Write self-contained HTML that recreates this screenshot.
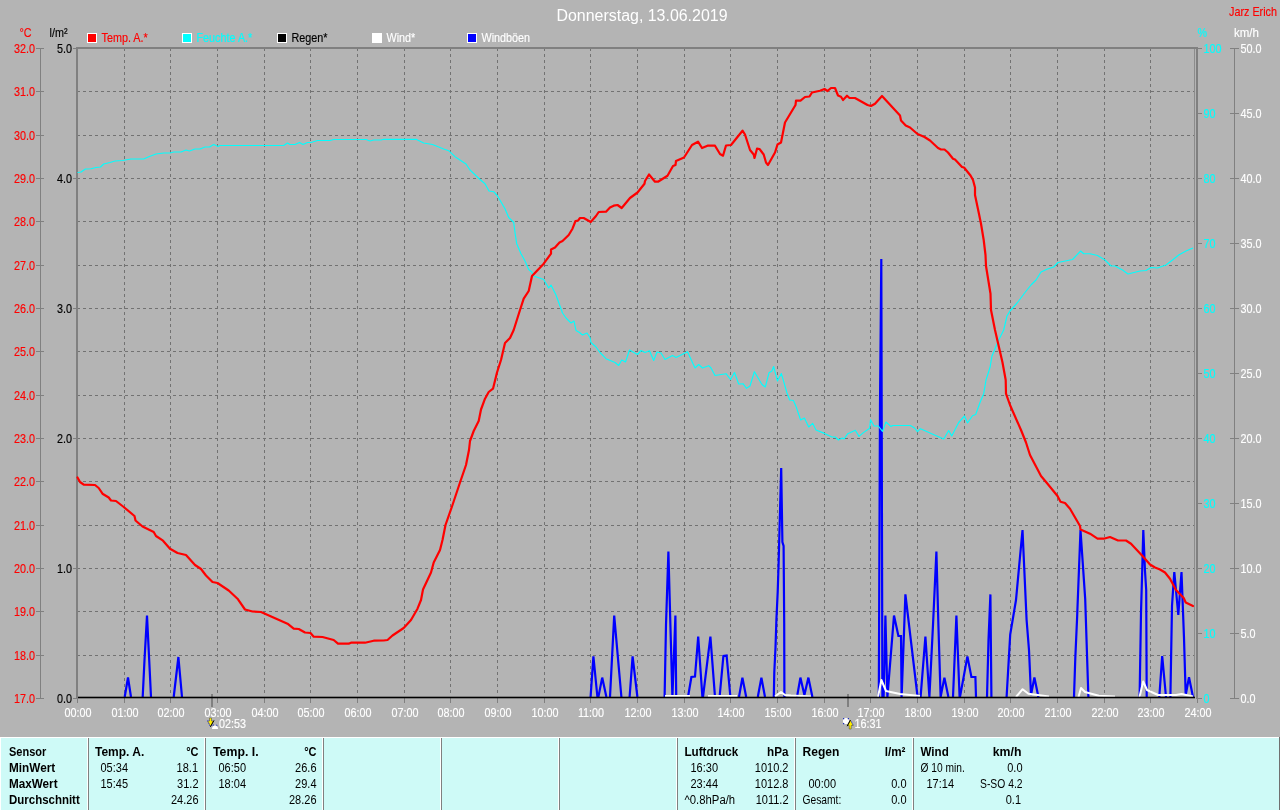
<!DOCTYPE html>
<html><head><meta charset="utf-8"><title>Donnerstag, 13.06.2019</title>
<style>html,body{margin:0;padding:0;background:#b4b4b4;overflow:hidden}svg{display:block;will-change:transform}text{font-family:"Liberation Sans",sans-serif}.a{font-size:12px;stroke-width:.15px}.t{font-size:12px}.b{font-size:12px;font-weight:bold}</style>
</head><body>
<svg width="1280" height="810" viewBox="0 0 1280 810">
<rect x="0" y="0" width="1280" height="810" fill="#b4b4b4"/>
<g stroke="#727272" stroke-width="1" stroke-dasharray="3 3" shape-rendering="crispEdges" fill="none">
<path d="M77 91.5H1194"/>
<path d="M77 135.5H1194"/>
<path d="M77 178.5H1194"/>
<path d="M77 221.5H1194"/>
<path d="M77 265.5H1194"/>
<path d="M77 308.5H1194"/>
<path d="M77 351.5H1194"/>
<path d="M77 395.5H1194"/>
<path d="M77 438.5H1194"/>
<path d="M77 481.5H1194"/>
<path d="M77 525.5H1194"/>
<path d="M77 568.5H1194"/>
<path d="M77 611.5H1194"/>
<path d="M77 655.5H1194"/>
<path d="M124.5 48V696"/>
<path d="M170.5 48V696"/>
<path d="M217.5 48V696"/>
<path d="M264.5 48V696"/>
<path d="M310.5 48V696"/>
<path d="M357.5 48V696"/>
<path d="M404.5 48V696"/>
<path d="M450.5 48V696"/>
<path d="M497.5 48V696"/>
<path d="M544.5 48V696"/>
<path d="M590.5 48V696"/>
<path d="M637.5 48V696"/>
<path d="M684.5 48V696"/>
<path d="M730.5 48V696"/>
<path d="M777.5 48V696"/>
<path d="M824.5 48V696"/>
<path d="M870.5 48V696"/>
<path d="M917.5 48V696"/>
<path d="M964.5 48V696"/>
<path d="M1010.5 48V696"/>
<path d="M1057.5 48V696"/>
<path d="M1104.5 48V696"/>
<path d="M1150.5 48V696"/>
</g>
<g fill="#808080" shape-rendering="crispEdges">
<rect x="76" y="47" width="2" height="652"/>
<rect x="76" y="47" width="1122" height="2"/>
<rect x="1196" y="47" width="2" height="652"/>
<rect x="1194" y="49" width="1" height="648" fill="#8c8c8c"/>
<rect x="40" y="48" width="1" height="651"/>
<rect x="1234" y="48" width="1" height="651"/>
<rect x="36" y="48" width="8" height="1"/>
<rect x="36" y="91" width="8" height="1"/>
<rect x="36" y="135" width="8" height="1"/>
<rect x="36" y="178" width="8" height="1"/>
<rect x="36" y="221" width="8" height="1"/>
<rect x="36" y="265" width="8" height="1"/>
<rect x="36" y="308" width="8" height="1"/>
<rect x="36" y="351" width="8" height="1"/>
<rect x="36" y="395" width="8" height="1"/>
<rect x="36" y="438" width="8" height="1"/>
<rect x="36" y="481" width="8" height="1"/>
<rect x="36" y="525" width="8" height="1"/>
<rect x="36" y="568" width="8" height="1"/>
<rect x="36" y="611" width="8" height="1"/>
<rect x="36" y="655" width="8" height="1"/>
<rect x="36" y="698" width="8" height="1"/>
<rect x="73" y="48" width="3" height="1"/>
<rect x="73" y="178" width="3" height="1"/>
<rect x="73" y="308" width="3" height="1"/>
<rect x="73" y="438" width="3" height="1"/>
<rect x="73" y="568" width="3" height="1"/>
<rect x="73" y="698" width="3" height="1"/>
<rect x="1198" y="48" width="4" height="1"/>
<rect x="1230" y="48" width="9" height="1"/>
<rect x="1198" y="113" width="4" height="1"/>
<rect x="1230" y="113" width="9" height="1"/>
<rect x="1198" y="178" width="4" height="1"/>
<rect x="1230" y="178" width="9" height="1"/>
<rect x="1198" y="243" width="4" height="1"/>
<rect x="1230" y="243" width="9" height="1"/>
<rect x="1198" y="308" width="4" height="1"/>
<rect x="1230" y="308" width="9" height="1"/>
<rect x="1198" y="373" width="4" height="1"/>
<rect x="1230" y="373" width="9" height="1"/>
<rect x="1198" y="438" width="4" height="1"/>
<rect x="1230" y="438" width="9" height="1"/>
<rect x="1198" y="503" width="4" height="1"/>
<rect x="1230" y="503" width="9" height="1"/>
<rect x="1198" y="568" width="4" height="1"/>
<rect x="1230" y="568" width="9" height="1"/>
<rect x="1198" y="633" width="4" height="1"/>
<rect x="1230" y="633" width="9" height="1"/>
<rect x="1198" y="698" width="4" height="1"/>
<rect x="1230" y="698" width="9" height="1"/>
<rect x="77" y="698" width="1" height="5"/>
<rect x="124" y="698" width="1" height="5"/>
<rect x="170" y="698" width="1" height="5"/>
<rect x="217" y="698" width="1" height="5"/>
<rect x="264" y="698" width="1" height="5"/>
<rect x="310" y="698" width="1" height="5"/>
<rect x="357" y="698" width="1" height="5"/>
<rect x="404" y="698" width="1" height="5"/>
<rect x="450" y="698" width="1" height="5"/>
<rect x="497" y="698" width="1" height="5"/>
<rect x="544" y="698" width="1" height="5"/>
<rect x="590" y="698" width="1" height="5"/>
<rect x="637" y="698" width="1" height="5"/>
<rect x="684" y="698" width="1" height="5"/>
<rect x="730" y="698" width="1" height="5"/>
<rect x="777" y="698" width="1" height="5"/>
<rect x="824" y="698" width="1" height="5"/>
<rect x="870" y="698" width="1" height="5"/>
<rect x="917" y="698" width="1" height="5"/>
<rect x="964" y="698" width="1" height="5"/>
<rect x="1010" y="698" width="1" height="5"/>
<rect x="1057" y="698" width="1" height="5"/>
<rect x="1104" y="698" width="1" height="5"/>
<rect x="1150" y="698" width="1" height="5"/>
<rect x="1197" y="698" width="1" height="5"/>
<rect x="211" y="694" width="2" height="13"/>
<rect x="847" y="694" width="2" height="13"/>
</g>
<g fill="none" stroke="#0000ff" stroke-width="2.2" stroke-linejoin="miter" stroke-miterlimit="3">
<polyline points="124.7,697 128,677.5 131,697"/>
<polyline points="142.7,697 144.5,660 147,615.6 149.2,660 151,697"/>
<polyline points="173.7,697 178.4,657 182,697"/>
<polyline points="590.6,697 593.4,656.4 597.4,697 598.4,697 602.2,677.6 606.4,697"/>
<polyline points="610,697 614.2,615.6 621.4,697"/>
<polyline points="629.6,697 632.6,656.4 637.4,697"/>
<polyline points="664.6,697 666,625 668.4,551.6 670.4,625 672.4,697 675.4,615.6 676.2,697"/>
<polyline points="688,697 691.4,677 695,676.6 698.2,636.6 702.4,697 703,697 710.4,636.6 715,697"/>
<polyline points="719.6,697 723.4,656 726.6,655.6 730.4,697"/>
<polyline points="739,697 742.4,677.6 746.2,697"/>
<polyline points="757.8,697 761.4,677.6 765,697"/>
<polyline points="773.8,697 774.3,672 775.5,647.5 776.4,620 777.7,592 778.6,564 779.5,530 781.2,468 782.4,542 783.6,546 784.2,623 784.4,697"/>
<polyline points="797,697 800.4,677.6 804.4,695 808.4,677.6 812.4,697"/>
<polyline points="878.8,697 880,406 881.3,259 882.4,697"/>
<polyline points="883.6,697 885.4,615.6 887.4,697 894,615.6 898.4,636 901,636 901.6,697 905.4,594.4 917.6,697"/>
<polyline points="920.6,697 925.4,636.6 929.4,697 933,625 936.4,551.6 938.4,625 940.6,697 944.4,677.6 948.4,697"/>
<polyline points="953,697 956.4,615.6 959.6,697 960,697 967.4,656.4 971.4,677 975.4,677 976,697"/>
<polyline points="987,697 988.5,640 990.4,594.4 991.4,697"/>
<polyline points="1006.6,697 1010.2,634.6 1016,600 1022.5,530 1026.6,620 1029,650 1031,695 1034.4,677.5 1038.4,697"/>
<polyline points="1074,697 1075.3,658 1077,620 1080.5,530 1085.2,599 1088.4,697"/>
<polyline points="1139.6,697 1141,613 1142.2,571 1143.3,530 1145,571 1146.2,590 1146.7,697"/>
<polyline points="1159.3,697 1162.2,656 1166,697"/>
<polyline points="1170.4,697 1172,606 1174.3,572 1178.3,615 1181.5,572 1184,638 1185.7,695 1189,677.3 1193,697"/>
</g>
<g fill="none" stroke="#ffffff" stroke-width="2" stroke-linejoin="round">
<polyline points="665,696 690,696"/>
<polyline points="708,696 737,696"/>
<polyline points="775,696.5 781,692 785,695 791,695.5 811,696.5"/>
<polyline points="878,697 881.4,680 886,691 900,694 920,696"/>
<polyline points="1016,697 1022.6,689.2 1028.4,693.8 1049,696.5"/>
<polyline points="1078.5,697 1081,688 1085,692 1098.8,695.7 1115,696.5"/>
<polyline points="1139.5,697 1143.2,681.5 1147,690 1158,695 1176,695 1181.5,694 1193,696.5"/>
</g>
<polyline points="77.5,172.5 81,172 85.5,169 91,168.7 96,167.5 100.5,167 103.7,164 110,162.5 115,161 122.5,160.5 131,159 143.7,159 148.7,156.7 156,154 163.7,153 170,153 173.7,152 181,152 186,150 189.5,151 195,149 200,149 205,147 209.5,147 213.7,144.5 218,146.5 220,145.5 283.7,145.5 287.5,143 290,144.5 295,144.5 299.5,142.5 303,144.5 307.5,142.5 311,142.5 317.5,140.5 330,140.5 333.7,139.5 366,139.5 370,141 373.7,140 381,140 383.7,139.3 416,139.3 423.7,143 432.5,144.5 443.7,149 448.7,150.7 455,156.7 466,164 470,170 480,179.5 485,183.7 489,191 493.7,191.7 497.5,196 505,208.7 508.7,217.5 513.7,222.5 515,232.5 516.7,243.7 521,253.7 525,261 528.7,269.5 531.7,272 533.7,276 543.7,279.5 548.7,288 551,285 556,295 562.5,313 566,318 571,323 574,321 576,330.5 579.5,332.5 582.5,335 587,333 590,337.5 591,342.5 596,347 600,352.5 606,358.7 615,362.5 618.7,365.5 621.7,360 625.5,362 629.5,350 637.5,354.5 641,350.5 645,352.5 649.5,350.7 653.7,360.5 657,352 661,353 665,359.5 672.5,355.5 676,357.5 687.5,351.7 695,368 698.7,364.5 702.5,368 708.7,365.7 711,368 715,375.5 726,373.7 730.5,379.5 734.5,372.5 738.7,384 743,383.7 746.5,388.4 750,386 754.4,371.7 762,384.5 765.3,387 769,372.8 772,371 773.6,366.5 777.5,381 781.4,373.6 787,393 789.7,400 793.4,400.5 796,406.4 800.6,420 804.4,418 808.7,427 812.6,423.3 816,430 824.4,433.4 832,437 835.3,437 838.4,440 842.3,438 844,439 847.8,433.7 855.3,430.3 859,436.4 863.4,432.6 869.7,428.3 870.5,419.7 874,426 878.3,426 882.5,431.4 886,422 890.8,426.4 893,425.5 910.3,425.5 914.5,428 917.5,431.7 920.5,428.7 930,433 943.7,439 948.7,430.5 951.7,436 958.7,422.5 964.5,416 967.5,423 972.5,415.7 975.7,414.5 980,402.5 983.7,393.7 986,380 990,367.5 992,356 998.7,340 1003.7,330 1007,316 1010,311 1017.5,302.5 1025,292.5 1031,285 1036,280 1041,272 1047.5,269 1053.7,267 1058,262.5 1072.5,259.5 1080.7,251 1083.7,253.7 1090,253.7 1097.5,255.5 1105,260 1111,266 1115,266 1122.5,270 1128,274 1140,271 1146,270.5 1151,267.5 1157.5,268 1166,265 1172.5,260 1178.7,255 1186,251 1193,248" fill="none" stroke="#00ffff" stroke-width="1.15" stroke-linejoin="round"/>
<polyline points="77.5,477.5 80,482 83.7,484.7 95,485 98.7,488 102.5,493.7 108.7,497.5 111,500.5 116,501 123.7,507 134.5,516 135.5,520.5 142.5,526.5 153.7,532 156,536 163,540.7 170,548.7 177.5,553 186,555 195,565 201,569 206,575.5 212.5,582 217.5,583 228.7,590.5 237.5,598.7 245,609.5 252.5,611.5 261,612 287.5,623.7 293.7,628.7 298.7,629 305,632.5 310.5,633 313.7,636.7 322.5,637 333.7,640 338,643.7 348.7,643.7 351,642.7 365,642.7 373.7,640.7 383.7,640.5 387.5,640 392.5,635.5 403.7,628 411,620 417.5,608.7 421,600 423,589.5 431,572.5 433.7,562.5 440,550 442.5,540 445.5,525 452.5,505 460,482.5 466,465 469,450 470,441 473.7,431 478.7,421 481,409.5 485,398.7 488.7,392 493,388.7 497,372.5 501,360 505,343 510,338 513.7,330 520,310 523.7,298.7 528.7,291 532,276 543.7,263.7 551,253.7 551,249.5 555,247.5 559.5,242.5 562.5,241 568.7,235 572.5,228.7 575.5,221 578,220.7 580,218 583.7,218 590.7,222 596,216 598.7,212 606,211.7 610,207.5 613.7,205.7 617.5,205 621.7,208 630,198 637.5,192.5 644.5,183.7 645,181 649,174.5 655,181.7 658,181.7 667.5,175.7 673,166 675.5,165 676,161 684,157.5 692,145 698,141.7 702,148 707.5,145.7 715,145.7 720,154 723,155.7 726,145.5 731,145 742.5,130.7 745,134.5 750,150 753.7,154.5 754.5,158 757,148.7 759.5,149 763.7,154.5 766,162.5 768,165 775,152.5 777.5,144.5 781,142.5 785,122.5 795.5,105 796,100.7 800.5,100.7 805,97 809.5,96.5 812,92.5 820,90.7 824.5,89 827.5,91 831,88 835,88 838,95.5 841,96.7 843,100 847,95.7 849.5,98 855,98 867.5,105 871,106 875,103.7 882,96 900,115.5 901,120.5 905.7,125.5 910,127.5 917.5,134 924.5,137 930,140.5 938,148 941,149.5 944.5,149.5 948,152.5 953,158.7 955,159.5 962,167 964,167.5 970.5,175.5 973,180 975,187.5 975,195 978.7,212.5 981,223.7 983.7,240 985.5,255 986,266 990.5,293.7 991,310 995,330 1002.5,362.5 1005.7,380 1006,393.7 1010,405 1021,430 1026,442.5 1030,455 1041,476 1047.5,483.7 1057.5,496 1060.5,501.7 1065,503 1070,508.7 1080,526 1080.5,529.5 1090,533.7 1097.5,538.7 1103.7,538.7 1110,537 1118,540.5 1126,540.5 1131,543.7 1142.5,556 1150,564.5 1155,567.5 1160,569.5 1165,572.5 1170,578.7 1176,590 1183.7,598 1185.7,602.5 1193,606" fill="none" stroke="#ff0000" stroke-width="2.2" stroke-linejoin="round" stroke-linecap="round"/>
<rect x="78" y="696.7" width="1117" height="1.6" fill="#000"/>
<text class="a" transform="translate(35,53.0) scale(0.9,1)" text-anchor="end" fill="#ff0000" stroke="#ff0000">32.0</text>
<text class="a" transform="translate(35,96.3) scale(0.9,1)" text-anchor="end" fill="#ff0000" stroke="#ff0000">31.0</text>
<text class="a" transform="translate(35,139.7) scale(0.9,1)" text-anchor="end" fill="#ff0000" stroke="#ff0000">30.0</text>
<text class="a" transform="translate(35,183.0) scale(0.9,1)" text-anchor="end" fill="#ff0000" stroke="#ff0000">29.0</text>
<text class="a" transform="translate(35,226.3) scale(0.9,1)" text-anchor="end" fill="#ff0000" stroke="#ff0000">28.0</text>
<text class="a" transform="translate(35,269.7) scale(0.9,1)" text-anchor="end" fill="#ff0000" stroke="#ff0000">27.0</text>
<text class="a" transform="translate(35,313.0) scale(0.9,1)" text-anchor="end" fill="#ff0000" stroke="#ff0000">26.0</text>
<text class="a" transform="translate(35,356.3) scale(0.9,1)" text-anchor="end" fill="#ff0000" stroke="#ff0000">25.0</text>
<text class="a" transform="translate(35,399.7) scale(0.9,1)" text-anchor="end" fill="#ff0000" stroke="#ff0000">24.0</text>
<text class="a" transform="translate(35,443.0) scale(0.9,1)" text-anchor="end" fill="#ff0000" stroke="#ff0000">23.0</text>
<text class="a" transform="translate(35,486.3) scale(0.9,1)" text-anchor="end" fill="#ff0000" stroke="#ff0000">22.0</text>
<text class="a" transform="translate(35,529.7) scale(0.9,1)" text-anchor="end" fill="#ff0000" stroke="#ff0000">21.0</text>
<text class="a" transform="translate(35,573.0) scale(0.9,1)" text-anchor="end" fill="#ff0000" stroke="#ff0000">20.0</text>
<text class="a" transform="translate(35,616.3) scale(0.9,1)" text-anchor="end" fill="#ff0000" stroke="#ff0000">19.0</text>
<text class="a" transform="translate(35,659.7) scale(0.9,1)" text-anchor="end" fill="#ff0000" stroke="#ff0000">18.0</text>
<text class="a" transform="translate(35,703.0) scale(0.9,1)" text-anchor="end" fill="#ff0000" stroke="#ff0000">17.0</text>
<text class="a" transform="translate(72,53) scale(0.9,1)" text-anchor="end" fill="#000" stroke="#000">5.0</text>
<text class="a" transform="translate(72,183) scale(0.9,1)" text-anchor="end" fill="#000" stroke="#000">4.0</text>
<text class="a" transform="translate(72,313) scale(0.9,1)" text-anchor="end" fill="#000" stroke="#000">3.0</text>
<text class="a" transform="translate(72,443) scale(0.9,1)" text-anchor="end" fill="#000" stroke="#000">2.0</text>
<text class="a" transform="translate(72,573) scale(0.9,1)" text-anchor="end" fill="#000" stroke="#000">1.0</text>
<text class="a" transform="translate(72,703) scale(0.9,1)" text-anchor="end" fill="#000" stroke="#000">0.0</text>
<text class="a" transform="translate(1203.5,53) scale(0.9,1)" text-anchor="start" fill="#00ffff" stroke="#00ffff">100</text>
<text class="a" transform="translate(1240.5,53) scale(0.9,1)" text-anchor="start" fill="#ffffff" stroke="#ffffff">50.0</text>
<text class="a" transform="translate(1203.5,118) scale(0.9,1)" text-anchor="start" fill="#00ffff" stroke="#00ffff">90</text>
<text class="a" transform="translate(1240.5,118) scale(0.9,1)" text-anchor="start" fill="#ffffff" stroke="#ffffff">45.0</text>
<text class="a" transform="translate(1203.5,183) scale(0.9,1)" text-anchor="start" fill="#00ffff" stroke="#00ffff">80</text>
<text class="a" transform="translate(1240.5,183) scale(0.9,1)" text-anchor="start" fill="#ffffff" stroke="#ffffff">40.0</text>
<text class="a" transform="translate(1203.5,248) scale(0.9,1)" text-anchor="start" fill="#00ffff" stroke="#00ffff">70</text>
<text class="a" transform="translate(1240.5,248) scale(0.9,1)" text-anchor="start" fill="#ffffff" stroke="#ffffff">35.0</text>
<text class="a" transform="translate(1203.5,313) scale(0.9,1)" text-anchor="start" fill="#00ffff" stroke="#00ffff">60</text>
<text class="a" transform="translate(1240.5,313) scale(0.9,1)" text-anchor="start" fill="#ffffff" stroke="#ffffff">30.0</text>
<text class="a" transform="translate(1203.5,378) scale(0.9,1)" text-anchor="start" fill="#00ffff" stroke="#00ffff">50</text>
<text class="a" transform="translate(1240.5,378) scale(0.9,1)" text-anchor="start" fill="#ffffff" stroke="#ffffff">25.0</text>
<text class="a" transform="translate(1203.5,443) scale(0.9,1)" text-anchor="start" fill="#00ffff" stroke="#00ffff">40</text>
<text class="a" transform="translate(1240.5,443) scale(0.9,1)" text-anchor="start" fill="#ffffff" stroke="#ffffff">20.0</text>
<text class="a" transform="translate(1203.5,508) scale(0.9,1)" text-anchor="start" fill="#00ffff" stroke="#00ffff">30</text>
<text class="a" transform="translate(1240.5,508) scale(0.9,1)" text-anchor="start" fill="#ffffff" stroke="#ffffff">15.0</text>
<text class="a" transform="translate(1203.5,573) scale(0.9,1)" text-anchor="start" fill="#00ffff" stroke="#00ffff">20</text>
<text class="a" transform="translate(1240.5,573) scale(0.9,1)" text-anchor="start" fill="#ffffff" stroke="#ffffff">10.0</text>
<text class="a" transform="translate(1203.5,638) scale(0.9,1)" text-anchor="start" fill="#00ffff" stroke="#00ffff">10</text>
<text class="a" transform="translate(1240.5,638) scale(0.9,1)" text-anchor="start" fill="#ffffff" stroke="#ffffff">5.0</text>
<text class="a" transform="translate(1203.5,703) scale(0.9,1)" text-anchor="start" fill="#00ffff" stroke="#00ffff">0</text>
<text class="a" transform="translate(1240.5,703) scale(0.9,1)" text-anchor="start" fill="#ffffff" stroke="#ffffff">0.0</text>
<text class="a" transform="translate(78,717) scale(0.9,1)" text-anchor="middle" fill="#ffffff" stroke="#ffffff">00:00</text>
<text class="a" transform="translate(125,717) scale(0.9,1)" text-anchor="middle" fill="#ffffff" stroke="#ffffff">01:00</text>
<text class="a" transform="translate(171,717) scale(0.9,1)" text-anchor="middle" fill="#ffffff" stroke="#ffffff">02:00</text>
<text class="a" transform="translate(218,717) scale(0.9,1)" text-anchor="middle" fill="#ffffff" stroke="#ffffff">03:00</text>
<text class="a" transform="translate(265,717) scale(0.9,1)" text-anchor="middle" fill="#ffffff" stroke="#ffffff">04:00</text>
<text class="a" transform="translate(311,717) scale(0.9,1)" text-anchor="middle" fill="#ffffff" stroke="#ffffff">05:00</text>
<text class="a" transform="translate(358,717) scale(0.9,1)" text-anchor="middle" fill="#ffffff" stroke="#ffffff">06:00</text>
<text class="a" transform="translate(405,717) scale(0.9,1)" text-anchor="middle" fill="#ffffff" stroke="#ffffff">07:00</text>
<text class="a" transform="translate(451,717) scale(0.9,1)" text-anchor="middle" fill="#ffffff" stroke="#ffffff">08:00</text>
<text class="a" transform="translate(498,717) scale(0.9,1)" text-anchor="middle" fill="#ffffff" stroke="#ffffff">09:00</text>
<text class="a" transform="translate(545,717) scale(0.9,1)" text-anchor="middle" fill="#ffffff" stroke="#ffffff">10:00</text>
<text class="a" transform="translate(591,717) scale(0.9,1)" text-anchor="middle" fill="#ffffff" stroke="#ffffff">11:00</text>
<text class="a" transform="translate(638,717) scale(0.9,1)" text-anchor="middle" fill="#ffffff" stroke="#ffffff">12:00</text>
<text class="a" transform="translate(685,717) scale(0.9,1)" text-anchor="middle" fill="#ffffff" stroke="#ffffff">13:00</text>
<text class="a" transform="translate(731,717) scale(0.9,1)" text-anchor="middle" fill="#ffffff" stroke="#ffffff">14:00</text>
<text class="a" transform="translate(778,717) scale(0.9,1)" text-anchor="middle" fill="#ffffff" stroke="#ffffff">15:00</text>
<text class="a" transform="translate(825,717) scale(0.9,1)" text-anchor="middle" fill="#ffffff" stroke="#ffffff">16:00</text>
<text class="a" transform="translate(871,717) scale(0.9,1)" text-anchor="middle" fill="#ffffff" stroke="#ffffff">17:00</text>
<text class="a" transform="translate(918,717) scale(0.9,1)" text-anchor="middle" fill="#ffffff" stroke="#ffffff">18:00</text>
<text class="a" transform="translate(965,717) scale(0.9,1)" text-anchor="middle" fill="#ffffff" stroke="#ffffff">19:00</text>
<text class="a" transform="translate(1011,717) scale(0.9,1)" text-anchor="middle" fill="#ffffff" stroke="#ffffff">20:00</text>
<text class="a" transform="translate(1058,717) scale(0.9,1)" text-anchor="middle" fill="#ffffff" stroke="#ffffff">21:00</text>
<text class="a" transform="translate(1105,717) scale(0.9,1)" text-anchor="middle" fill="#ffffff" stroke="#ffffff">22:00</text>
<text class="a" transform="translate(1151,717) scale(0.9,1)" text-anchor="middle" fill="#ffffff" stroke="#ffffff">23:00</text>
<text class="a" transform="translate(1198,717) scale(0.9,1)" text-anchor="middle" fill="#ffffff" stroke="#ffffff">24:00</text>
<text class="a" transform="translate(19.5,37) scale(0.9,1)" text-anchor="start" fill="#ff0000" stroke="#ff0000">°C</text>
<text class="a" transform="translate(49.5,37) scale(0.9,1)" text-anchor="start" fill="#000" stroke="#000">l/m²</text>
<text class="a" transform="translate(1197.5,37) scale(0.9,1)" text-anchor="start" fill="#00ffff" stroke="#00ffff">%</text>
<text class="a" transform="translate(1234,37) scale(0.96,1)" text-anchor="start" fill="#ffffff" stroke="#ffffff">km/h</text>
<text class="a" transform="translate(1277,16) scale(0.9,1)" text-anchor="end" fill="#ff0000" stroke="#ff0000">Jarz Erich</text>
<text class="a" transform="translate(219,728) scale(0.9,1)" text-anchor="start" fill="#ffffff" stroke="#ffffff">02:53</text>
<text class="a" transform="translate(854.5,728) scale(0.9,1)" text-anchor="start" fill="#ffffff" stroke="#ffffff">16:31</text>
<text x="642" y="20.5" text-anchor="middle" fill="#ffffff" font-size="16px" textLength="171" lengthAdjust="spacingAndGlyphs">Donnerstag, 13.06.2019</text>
<rect x="87" y="33" width="10" height="10" fill="#fff" shape-rendering="crispEdges"/>
<rect x="88" y="34" width="8" height="8" fill="#ff0000" shape-rendering="crispEdges"/>
<text class="a" transform="translate(101.5,42) scale(0.9,1)" text-anchor="start" fill="#ff0000" stroke="#ff0000">Temp. A.*</text>
<rect x="182" y="33" width="10" height="10" fill="#fff" shape-rendering="crispEdges"/>
<rect x="183" y="34" width="8" height="8" fill="#00ffff" shape-rendering="crispEdges"/>
<text class="a" transform="translate(196.5,42) scale(0.9,1)" text-anchor="start" fill="#00ffff" stroke="#00ffff">Feuchte A.*</text>
<rect x="277" y="33" width="10" height="10" fill="#fff" shape-rendering="crispEdges"/>
<rect x="278" y="34" width="8" height="8" fill="#000000" shape-rendering="crispEdges"/>
<text class="a" transform="translate(291.5,42) scale(0.9,1)" text-anchor="start" fill="#000" stroke="#000">Regen*</text>
<rect x="372" y="33" width="10" height="10" fill="#fff" shape-rendering="crispEdges"/>
<rect x="373" y="34" width="8" height="8" fill="#ffffff" shape-rendering="crispEdges"/>
<text class="a" transform="translate(386.5,42) scale(0.9,1)" text-anchor="start" fill="#ffffff" stroke="#ffffff">Wind*</text>
<rect x="467" y="33" width="10" height="10" fill="#fff" shape-rendering="crispEdges"/>
<rect x="468" y="34" width="8" height="8" fill="#0000ff" shape-rendering="crispEdges"/>
<text class="a" transform="translate(481.5,42) scale(0.9,1)" text-anchor="start" fill="#ffffff" stroke="#ffffff">Windböen</text>
<g>
<path d="M209.5 718h2v3h2l-3 5.5l-3-5.5h2z" fill="#ffee00" stroke="#222" stroke-width="0.4"/>
<path d="M212 729a3 3.6 0 0 1 6 0z" fill="#fff"/>
<path d="M214 720.4L210.4 726.8" stroke="#000" stroke-width="1" fill="none"/>
<path d="M207.6 720.2L210 726" stroke="#3040ff" stroke-width="0.9" stroke-dasharray="1.4 1.2" fill="none"/>
<path d="M212.6 725.4l1.4 -.6M217.4 725.6l-1.2-.6" stroke="#2030c0" stroke-width="1" fill="none"/>
<circle cx="846" cy="721" r="3.1" fill="#fff"/>
<path d="M850.2 720l3 5.5h-2v3.5h-2v-3.5h-2z" fill="#ffee00" stroke="#222" stroke-width="0.4"/>
<path d="M850.4 720.2L847.2 726.2" stroke="#000" stroke-width="1" fill="none"/>
<path d="M851.6 721.5L853.6 726" stroke="#3040ff" stroke-width="0.8" stroke-dasharray="1.2 1.2" fill="none"/>
<path d="M843 718h1.2v1.2h-1.2zM847.8 718h1.2v1.2h-1.2zM843 723h1.2v1.2h-1.2z" fill="#2030c0"/>
</g>
<rect x="0" y="737" width="1280" height="73" fill="#cefaf7"/>
<rect x="0" y="737" width="1280" height="1" fill="#fff"/>
<rect x="0" y="737" width="1" height="73" fill="#fff"/>
<rect x="1279" y="737" width="1" height="73" fill="#707070"/>
<rect x="87" y="738" width="1" height="72" fill="#fff" shape-rendering="crispEdges"/>
<rect x="88" y="738" width="1" height="72" fill="#808080" shape-rendering="crispEdges"/>
<rect x="204" y="738" width="1" height="72" fill="#fff" shape-rendering="crispEdges"/>
<rect x="205" y="738" width="1" height="72" fill="#808080" shape-rendering="crispEdges"/>
<rect x="322" y="738" width="1" height="72" fill="#fff" shape-rendering="crispEdges"/>
<rect x="323" y="738" width="1" height="72" fill="#808080" shape-rendering="crispEdges"/>
<rect x="440" y="738" width="1" height="72" fill="#fff" shape-rendering="crispEdges"/>
<rect x="441" y="738" width="1" height="72" fill="#808080" shape-rendering="crispEdges"/>
<rect x="558" y="738" width="1" height="72" fill="#fff" shape-rendering="crispEdges"/>
<rect x="559" y="738" width="1" height="72" fill="#808080" shape-rendering="crispEdges"/>
<rect x="676" y="738" width="1" height="72" fill="#fff" shape-rendering="crispEdges"/>
<rect x="677" y="738" width="1" height="72" fill="#808080" shape-rendering="crispEdges"/>
<rect x="794" y="738" width="1" height="72" fill="#fff" shape-rendering="crispEdges"/>
<rect x="795" y="738" width="1" height="72" fill="#808080" shape-rendering="crispEdges"/>
<rect x="912" y="738" width="1" height="72" fill="#fff" shape-rendering="crispEdges"/>
<rect x="913" y="738" width="1" height="72" fill="#808080" shape-rendering="crispEdges"/>
<text class="b" transform="translate(9,756) scale(0.9167,1)" text-anchor="start" fill="#000">Sensor</text>
<text class="b" transform="translate(9,772) scale(0.9808,1)" text-anchor="start" fill="#000">MinWert</text>
<text class="b" transform="translate(9,788) scale(0.9762,1)" text-anchor="start" fill="#000">MaxWert</text>
<text class="b" transform="translate(9,804) scale(0.957,1)" text-anchor="start" fill="#000">Durchschnitt</text>
<text class="b" transform="translate(95,756) scale(0.9992,1)" text-anchor="start" fill="#000">Temp. A.</text>
<text class="b" transform="translate(198.5,756) scale(0.9167,1)" text-anchor="end" fill="#000">°C</text>
<text class="t" transform="translate(100.5,772) scale(0.9167,1)" text-anchor="start" fill="#000">05:34</text>
<text class="t" transform="translate(198,772) scale(0.9167,1)" text-anchor="end" fill="#000">18.1</text>
<text class="t" transform="translate(100.5,788) scale(0.9167,1)" text-anchor="start" fill="#000">15:45</text>
<text class="t" transform="translate(198.5,788) scale(0.9167,1)" text-anchor="end" fill="#000">31.2</text>
<text class="t" transform="translate(198.5,804) scale(0.9167,1)" text-anchor="end" fill="#000">24.26</text>
<text class="b" transform="translate(213,756) scale(1.0267,1)" text-anchor="start" fill="#000">Temp. I.</text>
<text class="b" transform="translate(316.5,756) scale(0.9167,1)" text-anchor="end" fill="#000">°C</text>
<text class="t" transform="translate(218.5,772) scale(0.9167,1)" text-anchor="start" fill="#000">06:50</text>
<text class="t" transform="translate(316.5,772) scale(0.9167,1)" text-anchor="end" fill="#000">26.6</text>
<text class="t" transform="translate(218.5,788) scale(0.9167,1)" text-anchor="start" fill="#000">18:04</text>
<text class="t" transform="translate(316.5,788) scale(0.9167,1)" text-anchor="end" fill="#000">29.4</text>
<text class="t" transform="translate(316.5,804) scale(0.9167,1)" text-anchor="end" fill="#000">28.26</text>
<text class="b" transform="translate(684.5,756) scale(0.9717,1)" text-anchor="start" fill="#000">Luftdruck</text>
<text class="b" transform="translate(788.5,756) scale(0.9717,1)" text-anchor="end" fill="#000">hPa</text>
<text class="t" transform="translate(690.5,772) scale(0.9167,1)" text-anchor="start" fill="#000">16:30</text>
<text class="t" transform="translate(788.5,772) scale(0.9167,1)" text-anchor="end" fill="#000">1010.2</text>
<text class="t" transform="translate(690.5,788) scale(0.9167,1)" text-anchor="start" fill="#000">23:44</text>
<text class="t" transform="translate(788.5,788) scale(0.9167,1)" text-anchor="end" fill="#000">1012.8</text>
<text class="t" transform="translate(684.5,804) scale(0.9442,1)" text-anchor="start" fill="#000">^0.8hPa/h</text>
<text class="t" transform="translate(788.5,804) scale(0.9167,1)" text-anchor="end" fill="#000">1011.2</text>
<text class="b" transform="translate(802.5,756) scale(1.0083,1)" text-anchor="start" fill="#000">Regen</text>
<text class="b" transform="translate(905.5,756) scale(0.9762,1)" text-anchor="end" fill="#000">l/m²</text>
<text class="t" transform="translate(808.5,788) scale(0.9167,1)" text-anchor="start" fill="#000">00:00</text>
<text class="t" transform="translate(906.5,788) scale(0.9167,1)" text-anchor="end" fill="#000">0.0</text>
<text class="t" transform="translate(802.5,804) scale(0.8571,1)" text-anchor="start" fill="#000">Gesamt:</text>
<text class="t" transform="translate(906.5,804) scale(0.9167,1)" text-anchor="end" fill="#000">0.0</text>
<text class="b" transform="translate(920.5,756) scale(0.9671,1)" text-anchor="start" fill="#000">Wind</text>
<text class="b" transform="translate(1021.5,756) scale(1.0267,1)" text-anchor="end" fill="#000">km/h</text>
<text class="t" transform="translate(920.5,772) scale(0.8525,1)" text-anchor="start" fill="#000">Ø 10 min.</text>
<text class="t" transform="translate(1022.5,772) scale(0.9167,1)" text-anchor="end" fill="#000">0.0</text>
<text class="t" transform="translate(926.5,788) scale(0.9167,1)" text-anchor="start" fill="#000">17:14</text>
<text class="t" transform="translate(1022.5,788) scale(0.8617,1)" text-anchor="end" fill="#000">S-SO 4.2</text>
<text class="t" transform="translate(1021,804) scale(0.9167,1)" text-anchor="end" fill="#000">0.1</text>
</svg>
</body></html>
